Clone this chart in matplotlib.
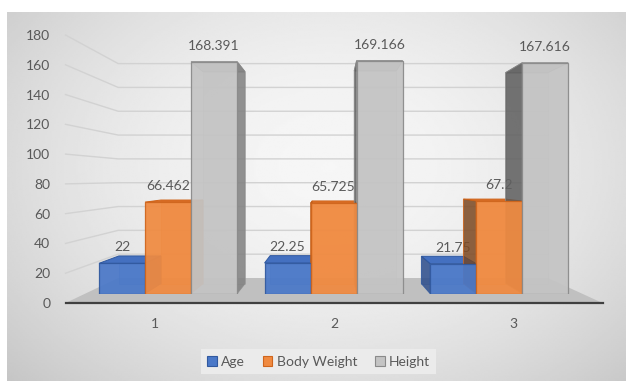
import numpy as np
import matplotlib
matplotlib.use("Agg")
import matplotlib.pyplot as plt
from matplotlib.patches import Polygon, Patch

# ---------------- data ----------------
categories = ["1", "2", "3"]
series_names = ["Age", "Body Weight", "Height"]
age = [22, 22.25, 21.75]
body_weight = [66.462, 65.725, 67.2]
height = [168.391, 169.166, 167.616]
yticks = [0, 20, 40, 60, 80, 100, 120, 140, 160, 180]

# ---------------- style ----------------
front_cols = ["#4a78c8", "#f08a40", "#c4c4c4"]
edge_cols = ["#31599f", "#cf651c", "#8a8a8a"]
top_cols = ["#4470c0", "#dc7028", "#b4b4b4"]
lside_cols = ["#2c4b88", "#744522", "#575757"]
rside_cols = ["#35599d", "#b9601f", "#7c7c7c"]
text_col = "#595959"

plt.rcParams["font.family"] = ["Lato", "DejaVu Sans"]

W, H = 626, 381
fig = plt.figure(figsize=(W / 100, H / 100), dpi=100)
fig.patch.set_facecolor("white")

# background gradient (chart area)
bg = fig.add_axes([7 / W, 0, 1 - 7 / W, (H - 12) / H], zorder=-10)
ny, nx = 200, 320
yy, xx = np.mgrid[0:1:ny * 1j, 0:1:nx * 1j]
r = np.sqrt(((xx - 0.52) / 0.62) ** 2 + ((yy - 0.42) / 0.75) ** 2)
img = 0.965 - 0.15 * np.clip(r, 0, 1.6) ** 1.8
bg.imshow(img, cmap="gray", vmin=0, vmax=1, extent=[0, 1, 0, 1],
          aspect="auto", origin="upper", interpolation="bilinear")
bg.axis("off")

# perspective planes (scaled about a vanishing point)
VPX, VPY = 329 / W, (H - 178) / H
base = [65.5 / W, 78 / H, 537 / W, 268 / H]


def plane_rect(s):
    l, b, w, h = base
    return [VPX + s * (l - VPX), VPY + s * (b - VPY), s * w, s * h]


XLIM = (0.5, 3.5)
YLIM = (0, 180)

ax_wall = fig.add_axes(plane_rect(0.80), zorder=0)
ax_lab = fig.add_axes(base, zorder=1)
ax_back = fig.add_axes(plane_rect(0.845), zorder=0)
ax_bar = fig.add_axes(plane_rect(0.925), zorder=2)
for a in (ax_wall, ax_lab, ax_back, ax_bar):
    a.set_xlim(*XLIM)
    a.set_ylim(*YLIM)
    a.patch.set_alpha(0)
for a in (ax_wall, ax_back, ax_bar):
    a.axis("off")
ax_back.set_visible(False)


def to(src, dst, pts):
    return dst.transData.inverted().transform(src.transData.transform(np.asarray(pts, float)))


# label plane: ticks, spine
xs = np.arange(1, len(categories) + 1)
ax_lab.set_xticks(xs)
ax_lab.set_xticklabels(categories)
ax_lab.set_yticks(yticks)
ax_lab.set_yticklabels([str(t) for t in yticks])
ax_lab.tick_params(axis="both", length=0, labelsize=10, labelcolor=text_col)
ax_lab.tick_params(axis="y", pad=11)
ax_lab.tick_params(axis="x", pad=11)
for side in ("top", "right", "left"):
    ax_lab.spines[side].set_visible(False)
ax_lab.spines["bottom"].set_color("#404040")
ax_lab.spines["bottom"].set_linewidth(1.6)
ax_lab.spines["bottom"].set_zorder(5)

# gridlines: left wall slant + back wall
for v in yticks[1:]:
    p1, p2 = to(ax_wall, ax_lab, [(XLIM[0], v), (XLIM[1], v)])
    ax_lab.plot([XLIM[0], p1[0], p2[0]], [v, p1[1], p2[1]], color="#d2d2d2",
                lw=1.0, clip_on=False, zorder=1)

# floor
fb = to(ax_wall, ax_lab, [(XLIM[1], 0), (XLIM[0], 0)])
floor = Polygon([(XLIM[0], 0), (XLIM[1], 0), tuple(fb[0]), tuple(fb[1])],
                closed=True, fc="#c0c0c0", ec="none", zorder=2, clip_on=False)
ax_lab.add_patch(floor)

# bars
series = [age, body_weight, height]
w = 0.278
offsets = [-w, 0.0, w]
vp_x_disp = VPX * W

for j, vals in enumerate(series):
    xpos = xs + offsets[j]
    for i, v in enumerate(vals):
        x0, x1 = xpos[i] - w / 2, xpos[i] + w / 2
        F = np.array([(x0, 0), (x1, 0), (x1, v), (x0, v)])
        B = to(ax_back, ax_bar, F)
        # back face
        ax_bar.add_patch(Polygon(B, closed=True, fc=front_cols[j], alpha=0.35,
                                 ec=edge_cols[j], lw=0.6, zorder=3))
        # top face
        ax_bar.add_patch(Polygon([F[3], F[2], B[2], B[3]], closed=True,
                                 fc=top_cols[j], ec=edge_cols[j], lw=0.7, zorder=4))
        centre_disp = ax_bar.transData.transform((xpos[i], 0))[0]
        if centre_disp < vp_x_disp:
            side = [F[1], F[2], B[2], B[1]]
            col = rside_cols[j]
        else:
            side = [F[0], F[3], B[3], B[0]]
            col = lside_cols[j]
        ax_bar.add_patch(Polygon(side, closed=True, fc=col, ec=edge_cols[j],
                                 lw=0.7, alpha=0.8, zorder=5))
    ax_bar.bar(xpos, vals, width=w, color=front_cols[j], edgecolor=edge_cols[j],
               linewidth=0.9, alpha=0.93, zorder=6)
    for i, v in enumerate(vals):
        ax_bar.annotate(f"{v:g}", (xpos[i], v), xytext=(0, 16),
                        textcoords="offset pixels", ha="center", va="center",
                        fontsize=10, color=text_col, zorder=2, annotation_clip=False)

# legend
handles = [Patch(fc=front_cols[j], ec=edge_cols[j], lw=0.8) for j in range(3)]
leg = fig.legend(handles, series_names, loc="center",
                 bbox_to_anchor=(318.5 / W, (H - 361.5) / H), ncol=3,
                 fontsize=10, frameon=True, fancybox=False, handlelength=0.7,
                 handleheight=0.7, handletextpad=0.3, columnspacing=1.3,
                 borderpad=0.45, labelcolor=text_col)
leg.get_frame().set_facecolor("#ebebeb")
leg.get_frame().set_edgecolor("none")
leg.get_frame().set_alpha(1)

fig.savefig("out.png", dpi=100)
